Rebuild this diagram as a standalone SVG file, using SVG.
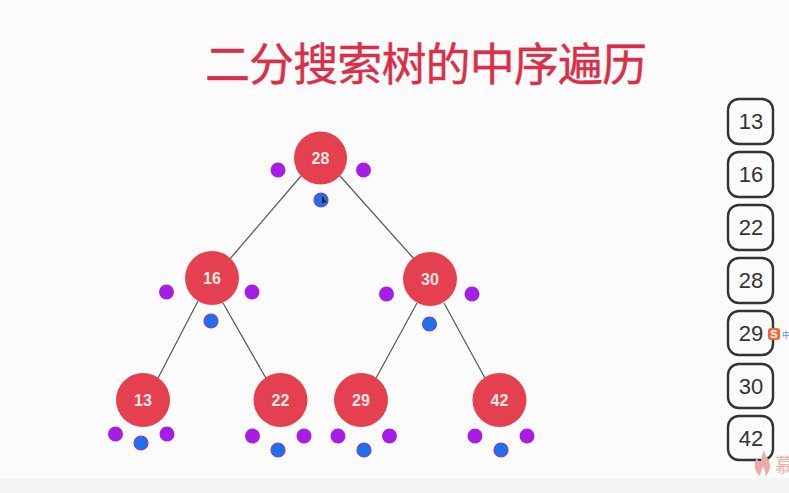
<svg xmlns="http://www.w3.org/2000/svg" width="789" height="493" viewBox="0 0 789 493">
<style>
.e{stroke:#555;stroke-width:1.2;fill:none}
.n{fill:#e5404f}
.nt{font:bold 16px "Liberation Sans",Arial,sans-serif;fill:#fbe9e4;text-anchor:middle}
.p{fill:#a61ee6}
.b{fill:#1f6fe8;stroke:#7a3fd0;stroke-width:1.2}
.r{fill:#fbfbfb;stroke:#333;stroke-width:2.4}
.rt{font:22px "Liberation Sans",Arial,sans-serif;fill:#333;text-anchor:middle}
</style>
<rect width="789" height="493" fill="#fbfbfb"/>
<rect y="478" width="789" height="15" fill="#f4f4f4"/>
<text id="title" x="426" y="81" text-anchor="middle" font-family="'Noto Sans CJK SC',sans-serif" font-size="45" fill="#d9304a" stroke="#d9304a" stroke-width="0.4" textLength="442" lengthAdjust="spacing">二分搜索树的中序遍历</text>
<g id="connectors" class="e">
<line x1="301" y1="176" x2="229" y2="260"/>
<line x1="340" y1="176" x2="415" y2="260"/>
<line x1="198" y1="301" x2="157" y2="380"/>
<line x1="223" y1="303" x2="267" y2="380"/>
<line x1="417" y1="303" x2="375" y2="380"/>
<line x1="444" y1="303" x2="486" y2="380"/>
</g>
<g id="node-28"><circle class="n" cx="320.500" cy="158" r="26.500"/><text class="nt" x="320.500" y="164">28</text><circle class="p" cx="278" cy="170" r="7.500"/><circle class="p" cx="363.500" cy="170" r="7.500"/><circle class="b" cx="321" cy="200" r="7"/><path d="M322 196l0 8 2-2 3 1z" fill="#222"/></g>
<g id="node-16"><circle class="n" cx="212" cy="278" r="27"/><text class="nt" x="212" y="284">16</text><circle class="p" cx="166.500" cy="292" r="7.500"/><circle class="p" cx="252" cy="292" r="7.500"/><circle class="b" cx="211" cy="321" r="7"/></g>
<g id="node-30"><circle class="n" cx="430" cy="279" r="27"/><text class="nt" x="430" y="285">30</text><circle class="p" cx="386.500" cy="294" r="7.500"/><circle class="p" cx="472" cy="294" r="7.500"/><circle class="b" cx="429.500" cy="324" r="7"/></g>
<g id="node-13"><circle class="n" cx="143" cy="400" r="27"/><text class="nt" x="143" y="406">13</text><circle class="p" cx="115.500" cy="434" r="7.500"/><circle class="p" cx="167" cy="434" r="7.500"/><circle class="b" cx="141" cy="443" r="7"/></g>
<g id="node-22"><circle class="n" cx="280.500" cy="400" r="27"/><text class="nt" x="280.500" y="406">22</text><circle class="p" cx="252.500" cy="436" r="7.500"/><circle class="p" cx="304" cy="436" r="7.500"/><circle class="b" cx="278" cy="450" r="7"/></g>
<g id="node-29"><circle class="n" cx="361" cy="400" r="27"/><text class="nt" x="361" y="406">29</text><circle class="p" cx="338" cy="436" r="7.500"/><circle class="p" cx="389.500" cy="436" r="7.500"/><circle class="b" cx="364" cy="450" r="7"/></g>
<g id="node-42"><circle class="n" cx="499.500" cy="400" r="27"/><text class="nt" x="499.500" y="406">42</text><circle class="p" cx="475" cy="436" r="7.500"/><circle class="p" cx="527" cy="436" r="7.500"/><circle class="b" cx="501" cy="450" r="7"/></g>
<g id="list-13"><rect class="r" x="728" y="99" width="45" height="45" rx="11"/><text class="rt" x="751" y="129">13</text></g>
<g id="list-16"><rect class="r" x="728" y="152" width="45" height="45" rx="11"/><text class="rt" x="751" y="182">16</text></g>
<g id="list-22"><rect class="r" x="728" y="205" width="45" height="45" rx="11"/><text class="rt" x="751" y="235">22</text></g>
<g id="list-28"><rect class="r" x="728" y="258" width="45" height="45" rx="11"/><text class="rt" x="751" y="288">28</text></g>
<g id="list-29"><rect class="r" x="728" y="311" width="45" height="44" rx="11"/><text class="rt" x="751" y="341">29</text></g>
<g id="list-30"><rect class="r" x="728" y="364" width="45" height="44" rx="11"/><text class="rt" x="751" y="394">30</text></g>
<g id="list-42"><rect class="r" x="728" y="416" width="45" height="44" rx="11"/><text class="rt" x="751" y="446">42</text></g>
<g id="overlay">
<rect x="768" y="328" width="12" height="12" rx="3" fill="#ee6a35"/>
<text x="774" y="338" font-family="'Liberation Sans',sans-serif" font-weight="bold" font-size="11" fill="#fff" text-anchor="middle">S</text>
<text x="782" y="338" font-family="'Noto Sans CJK SC',sans-serif" font-size="8" fill="#2a78d0">中</text>
<path d="M760 476c-6-5-7-12-3-18 1 3 2 4 4 4 0-4 1-8 3-11 1 5 6 8 6 15 0 5-2 8-5 10 1-4 0-7-2-9-1 3-3 5-3 9z" fill="#eea9a9"/>
<text x="775" y="472" font-family="'Noto Sans CJK SC',sans-serif" font-size="19" fill="#eeb0b0">慕</text>
</g>
</svg>
